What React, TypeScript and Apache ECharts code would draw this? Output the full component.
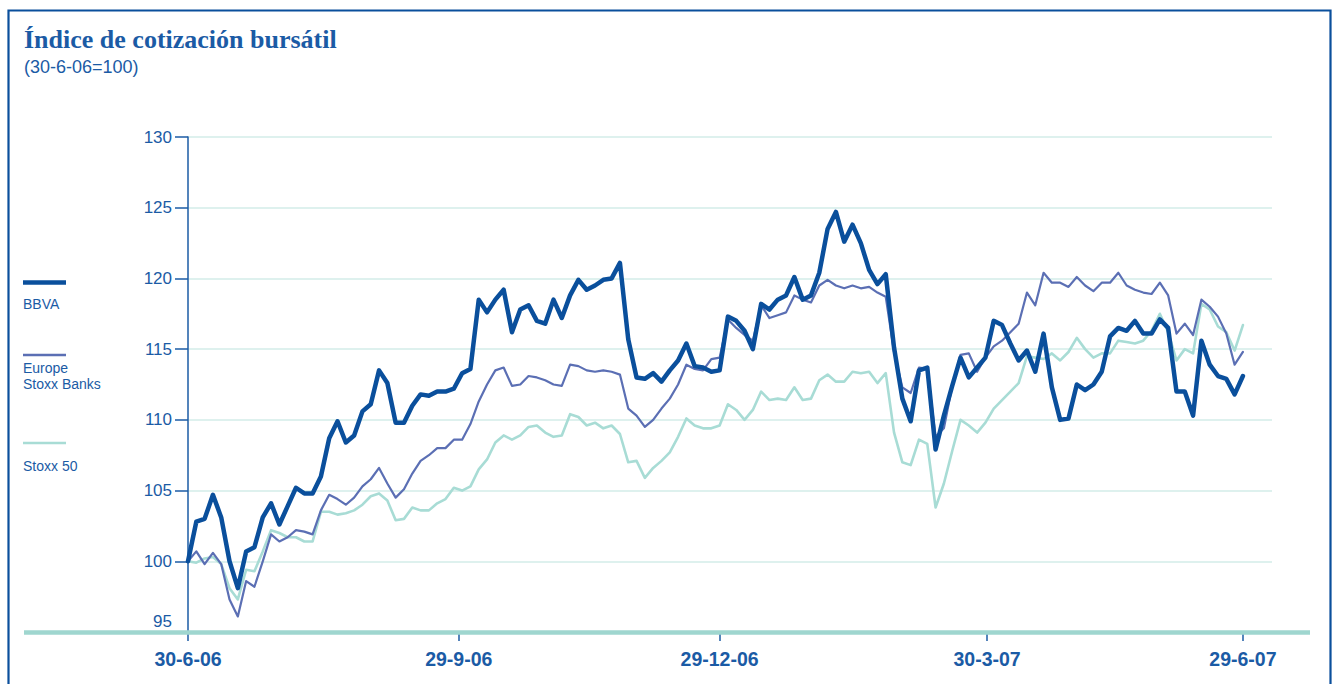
import React, { useEffect, useRef } from 'react';
import * as echarts from 'echarts';

// ---- data (one sample ≈ every two trading days, 30-6-06 … 29-6-07, base 30-6-06 = 100) ----
const seriesNames = ['BBVA', 'Europe Stoxx Banks', 'Stoxx 50'];
const legendLabels = ['BBVA', 'Europe\nStoxx Banks', 'Stoxx 50'];

const bbva = [
  100.0, 102.8, 103.0, 104.7, 103.1, 100.0, 98.1, 100.7, 101.0, 103.1, 104.1, 102.6, 103.9, 105.2, 104.8, 104.8,
  106.0, 108.7, 109.9, 108.4, 108.9, 110.6, 111.1, 113.5, 112.6, 109.8, 109.8, 111.0, 111.8, 111.7, 112.0, 112.0,
  112.2, 113.3, 113.6, 118.5, 117.6, 118.5, 119.2, 116.2, 117.8, 118.1, 117.0, 116.8, 118.5, 117.2, 118.8, 119.9,
  119.2, 119.5, 119.9, 120.0, 121.1, 115.7, 113.0, 112.9, 113.3, 112.7, 113.5, 114.2, 115.4, 113.8, 113.7, 113.4,
  113.5, 117.3, 117.0, 116.3, 115.0, 118.2, 117.8, 118.5, 118.8, 120.1, 118.5, 118.8, 120.4, 123.5, 124.7, 122.6,
  123.8, 122.5, 120.6, 119.6, 120.3, 115.1, 111.5, 109.9, 113.5, 113.7, 107.9, 110.3, 112.4, 114.4, 113.0, 113.7,
  114.4, 117.0, 116.7, 115.4, 114.2, 114.9, 113.4, 116.1, 112.3, 110.0, 110.1, 112.5, 112.1, 112.5, 113.4, 115.9,
  116.5, 116.3, 117.0, 116.1, 116.1, 117.1, 116.5, 112.0, 112.0, 110.3, 115.6, 113.9, 113.1, 112.9, 111.8, 113.1,
];

const stoxxBanks = [
  100.0, 100.7, 99.8, 100.6, 99.8, 97.3, 96.1, 98.6, 98.2, 100.0, 101.9, 101.4, 101.7, 102.2, 102.1, 101.9,
  103.6, 104.7, 104.4, 104.0, 104.5, 105.3, 105.8, 106.6, 105.5, 104.5, 105.1, 106.2, 107.1, 107.5, 108.0, 108.0,
  108.6, 108.6, 109.7, 111.3, 112.5, 113.5, 113.7, 112.4, 112.5, 113.1, 113.0, 112.8, 112.5, 112.4, 113.9, 113.8,
  113.5, 113.4, 113.5, 113.4, 113.2, 110.8, 110.3, 109.5, 110.0, 110.8, 111.5, 112.5, 113.9, 113.6, 113.5, 114.3,
  114.4, 117.1, 116.5, 116.0, 115.6, 118.1, 117.2, 117.4, 117.6, 118.8, 118.5, 118.3, 119.5, 119.9, 119.5, 119.3,
  119.5, 119.3, 119.4, 119.0, 118.7, 114.8, 112.3, 111.9, 113.7, 113.6, 108.8, 109.4, 112.4, 114.6, 114.7, 113.4,
  114.4, 115.2, 115.6, 116.2, 116.8, 119.0, 118.1, 120.4, 119.7, 119.7, 119.4, 120.1, 119.5, 119.1, 119.7, 119.7,
  120.4, 119.5, 119.2, 119.0, 118.9, 119.7, 118.8, 116.1, 116.8, 116.0, 118.5, 118.0, 117.3, 116.1, 113.9, 114.8,
];

const stoxx50 = [
  100.0, 99.9, 100.2, 100.3, 99.8, 98.1, 97.3, 99.4, 99.3, 100.7, 102.2, 102.0, 101.7, 101.7, 101.4, 101.4,
  103.5, 103.5, 103.3, 103.4, 103.6, 104.0, 104.6, 104.8, 104.3, 102.9, 103.0, 103.8, 103.6, 103.6, 104.1, 104.4,
  105.2, 105.0, 105.3, 106.5, 107.2, 108.4, 108.9, 108.6, 108.9, 109.5, 109.6, 109.1, 108.8, 108.9, 110.4, 110.2,
  109.6, 109.8, 109.4, 109.6, 109.0, 107.0, 107.1, 105.9, 106.6, 107.1, 107.7, 108.8, 110.1, 109.6, 109.4, 109.4,
  109.6, 111.1, 110.7, 110.0, 110.7, 112.0, 111.4, 111.5, 111.4, 112.3, 111.4, 111.5, 112.8, 113.2, 112.7, 112.7,
  113.4, 113.3, 113.4, 112.6, 113.3, 109.1, 107.0, 106.8, 108.6, 108.3, 103.8, 105.5, 107.8, 110.0, 109.6, 109.1,
  109.8, 110.8, 111.4, 112.0, 112.6, 114.5, 114.4, 114.3, 114.7, 114.2, 114.8, 115.8, 115.0, 114.4, 114.7, 114.7,
  115.6, 115.5, 115.4, 115.6, 116.3, 117.5, 116.2, 114.2, 115.0, 114.7, 118.2, 117.8, 116.6, 116.2, 114.9, 116.7,
];

// quarter-end dates, given as positions on the sample index scale
const xTickPositions = [0, 32.6, 64, 96.2, 127];
const xTickLabels = ['30-6-06', '29-9-06', '29-12-06', '30-3-07', '29-6-07'];
const yMin = 95;
const yMax = 130;
const yStep = 5;

// ---- styling ----
const BLUE_DARK = '#0a4f9c';
const BLUE_MID = '#5b6fb4';
const TEAL = '#a8dcd5';
const TEXT = '#1b5ba5';
const GRID = '#d3ece8';
const BASE = '#9fd6cf';
const SANS = '"Liberation Sans", Arial, sans-serif';

const seriesColors = [BLUE_DARK, BLUE_MID, TEAL];
const seriesWidths = [4.5, 2.2, 2.6];
const seriesData = [bbva, stoxxBanks, stoxx50];

function buildOption() {
  const legendY = [282.5, 355, 443];
  const legendTextY = [304, 376, 465.5];
  const legendItems: any[] = [];
  seriesNames.forEach((name, i) => {
    legendItems.push({
      type: 'line',
      shape: { x1: 23, y1: legendY[i], x2: 66, y2: legendY[i] },
      style: { stroke: seriesColors[i], lineWidth: i === 0 ? 4.5 : 2.6 },
    });
    legendItems.push({
      type: 'text',
      x: 23,
      y: legendTextY[i],
      style: {
        text: legendLabels[i],
        fill: TEXT,
        font: `14px ${SANS}`,
        lineHeight: 16,
        verticalAlign: 'middle',
      },
    });
  });

  // draw order: Stoxx 50 first, BBVA on top
  const order = [2, 1, 0];
  const series = order.map((i) => ({
    name: seriesNames[i],
    type: 'line',
    data: seriesData[i].map((v, k) => [k, v]),
    showSymbol: false,
    symbol: 'none',
    smooth: false,
    z: 3 + (2 - i),
    lineStyle: { color: seriesColors[i], width: seriesWidths[i], join: 'round', cap: 'round' },
    emphasis: { disabled: true },
  }));

  return {
    animation: false,
    backgroundColor: '#ffffff',
    grid: { left: 188, right: 60, top: 137, bottom: 52 },
    xAxis: {
      type: 'value',
      min: 0,
      max: 130.5,
      axisLine: { show: false },
      splitLine: { show: false },
      axisTick: {
        show: true,
        customValues: xTickPositions,
        length: 9,
        lineStyle: { color: TEXT, width: 1.5 },
      },
      axisLabel: {
        customValues: xTickPositions,
        formatter: (v: number) => {
          const idx = xTickPositions.indexOf(v);
          return idx >= 0 ? xTickLabels[idx] : '';
        },
        margin: 17,
        color: TEXT,
        fontFamily: SANS,
        fontWeight: 'bold',
        fontSize: 19.5,
      },
    },
    yAxis: {
      type: 'value',
      min: yMin,
      max: yMax,
      interval: yStep,
      axisLine: { show: true, lineStyle: { color: TEXT, width: 1.5 } },
      axisTick: { show: true, length: 13, lineStyle: { color: TEXT, width: 1.5 } },
      splitLine: { show: true, lineStyle: { color: GRID, width: 1.5 } },
      axisLabel: {
        margin: 16,
        color: TEXT,
        fontFamily: SANS,
        fontSize: 17,
        formatter: (v: number) => (v === yMin ? `{low|${v}}` : `${v}`),
        rich: {
          low: { color: TEXT, fontFamily: SANS, fontSize: 17, padding: [0, 0, 22, 0] },
        },
      },
    },
    graphic: [
      {
        type: 'rect',
        shape: { x: 8.5, y: 10.5, width: 1322, height: 720 },
        style: { fill: 'none', stroke: BLUE_DARK, lineWidth: 2.2 },
        z: 10,
      },
      {
        type: 'line',
        shape: { x1: 24, y1: 632.5, x2: 1310, y2: 632.5 },
        style: { stroke: BASE, lineWidth: 4.5 },
        z: 1,
      },
      {
        type: 'text',
        x: 24,
        y: 39,
        style: {
          text: 'Índice de cotización bursátil',
          fill: TEXT,
          font: 'bold 26px "Liberation Serif", "DejaVu Serif", serif',
          verticalAlign: 'middle',
        },
      },
      {
        type: 'text',
        x: 24,
        y: 67,
        style: {
          text: '(30-6-06=100)',
          fill: TEXT,
          font: `18px ${SANS}`,
          verticalAlign: 'middle',
        },
      },
      ...legendItems,
    ],
    series,
  };
}

export default function App() {
  const ref = useRef<HTMLDivElement>(null);
  useEffect(() => {
    if (!ref.current) return;
    const chart = echarts.init(ref.current, null, { renderer: 'svg' });
    chart.setOption(buildOption() as any);
    return () => chart.dispose();
  }, []);
  return (
    <div
      ref={ref}
      style={{ position: 'absolute', left: 0, top: 0, width: 1332, height: 684 }}
    />
  );
}
